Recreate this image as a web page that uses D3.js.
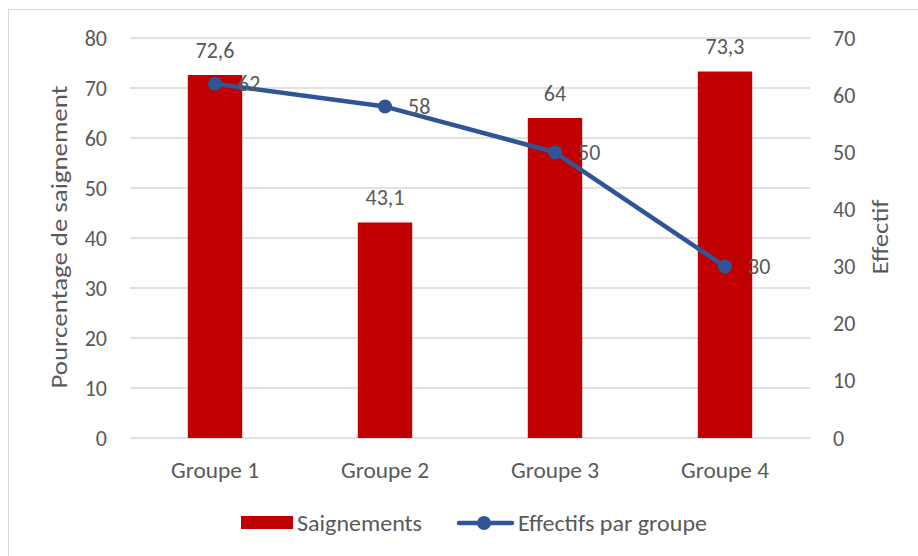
<!DOCTYPE html>
<html><head><meta charset="utf-8">
<script src="https://cdn.jsdelivr.net/npm/d3@7"></script>
<style>body{margin:0;background:#fff}svg{display:block}text{font-family:Carlito,Lato,sans-serif;fill:#595959}</style>
</head><body><svg id="c" width="918" height="556"></svg>
<script>
const categories = ["Groupe 1","Groupe 2","Groupe 3","Groupe 4"];
const saignements = [72.6, 43.1, 64, 73.3];
const effectifs = [62, 58, 50, 30];
const leftTicks = [0,10,20,30,40,50,60,70,80];
const rightTicks = [0,10,20,30,40,50,60,70];
const fmt = v => String(v).replace(".", ",");

const FS = 22;
const svg = d3.select("#c");
const W = 918, H = 556;
const m = {l:130, r:810, t:38, b:438};
svg.append("rect").attr("x",8.5).attr("y",9.5).attr("width",W+10).attr("height",H+10)
  .attr("fill","#fff").attr("stroke","#d9d9d9").attr("stroke-width",1);

const x = d3.scaleBand().domain(categories).range([m.l,m.r]).paddingInner(0.68).paddingOuter(0.34);
const yL = d3.scaleLinear().domain([0,80]).range([m.b,m.t]);
const yR = d3.scaleLinear().domain([0,70]).range([m.b,m.t]);

// grid
svg.append("g").selectAll("line").data(leftTicks).join("line")
  .attr("x1",m.l).attr("x2",m.r).attr("y1",d=>yL(d)).attr("y2",d=>yL(d))
  .attr("stroke","#d9d9d9").attr("stroke-width",1.5);

function styleAxis(g){
  g.select(".domain").remove();
  g.selectAll("text").attr("font-size",FS).attr("font-family","Carlito,Lato,sans-serif").attr("fill","#595959");
}
// left axis
svg.append("g").attr("transform",`translate(${m.l},0)`)
  .call(d3.axisLeft(yL).tickValues(leftTicks).tickSize(0).tickPadding(23)).call(styleAxis);
// right axis
svg.append("g").attr("transform",`translate(${m.r},0)`)
  .call(d3.axisRight(yR).tickValues(rightTicks).tickSize(0).tickPadding(23)).call(styleAxis);
// x axis
const gX = svg.append("g").attr("transform",`translate(0,${m.b})`)
  .call(d3.axisBottom(x).tickSize(0).tickPadding(24)).call(styleAxis);
gX.selectAll("text").attr("textLength",88).attr("lengthAdjust","spacingAndGlyphs");

// bars
svg.append("g").selectAll("rect").data(categories).join("rect")
  .attr("x",d=>x(d)).attr("width",x.bandwidth())
  .attr("y",(d,i)=>yL(saignements[i])).attr("height",(d,i)=>yL(0)-yL(saignements[i]))
  .attr("fill","#C00000");
svg.append("g").selectAll("text").data(categories).join("text")
  .attr("x",d=>x(d)+x.bandwidth()/2).attr("y",(d,i)=>yL(saignements[i])-25).attr("dy","0.35em")
  .attr("text-anchor","middle").attr("font-size",FS).text((d,i)=>fmt(saignements[i]));

// line
const cx = d => x(d)+x.bandwidth()/2;
const line = d3.line().x((d,i)=>cx(categories[i])).y(d=>yR(d));
svg.append("path").datum(effectifs).attr("d",line).attr("fill","none")
  .attr("stroke","#2F5597").attr("stroke-width",4.5).attr("stroke-linejoin","round");
svg.append("g").selectAll("circle").data(effectifs).join("circle")
  .attr("cx",(d,i)=>cx(categories[i])).attr("cy",d=>yR(d)).attr("r",7).attr("fill","#2F5597");
svg.append("g").selectAll("text").data(effectifs).join("text")
  .attr("x",(d,i)=>cx(categories[i])+23).attr("y",d=>yR(d)).attr("dy","0.35em")
  .attr("font-size",FS).text(d=>d);

// axis titles
svg.append("text").attr("transform","translate(59,237) rotate(-90)").attr("text-anchor","middle")
  .attr("dy","0.35em").attr("font-size",FS+1).attr("textLength",303).attr("lengthAdjust","spacingAndGlyphs")
  .text("Pourcentage de saignement");
svg.append("text").attr("transform","translate(880,237) rotate(-90)").attr("text-anchor","middle")
  .attr("dy","0.35em").attr("font-size",FS+1).attr("textLength",75).attr("lengthAdjust","spacingAndGlyphs")
  .text("Effectif");

// legend
const lg = svg.append("g");
lg.append("rect").attr("x",241).attr("y",516).attr("width",52).attr("height",13).attr("fill","#C00000");
lg.append("text").attr("x",297).attr("y",523).attr("dy","0.35em").attr("font-size",FS)
  .attr("textLength",125).attr("lengthAdjust","spacingAndGlyphs").text("Saignements");
lg.append("line").attr("x1",459).attr("x2",512).attr("y1",523).attr("y2",523).attr("stroke","#2F5597").attr("stroke-width",4.5).attr("stroke-linecap","round");
lg.append("circle").attr("cx",484).attr("cy",523).attr("r",7).attr("fill","#2F5597");
lg.append("text").attr("x",518).attr("y",523).attr("dy","0.35em").attr("font-size",FS)
  .attr("textLength",189).attr("lengthAdjust","spacingAndGlyphs").text("Effectifs par groupe");
</script></body></html>
